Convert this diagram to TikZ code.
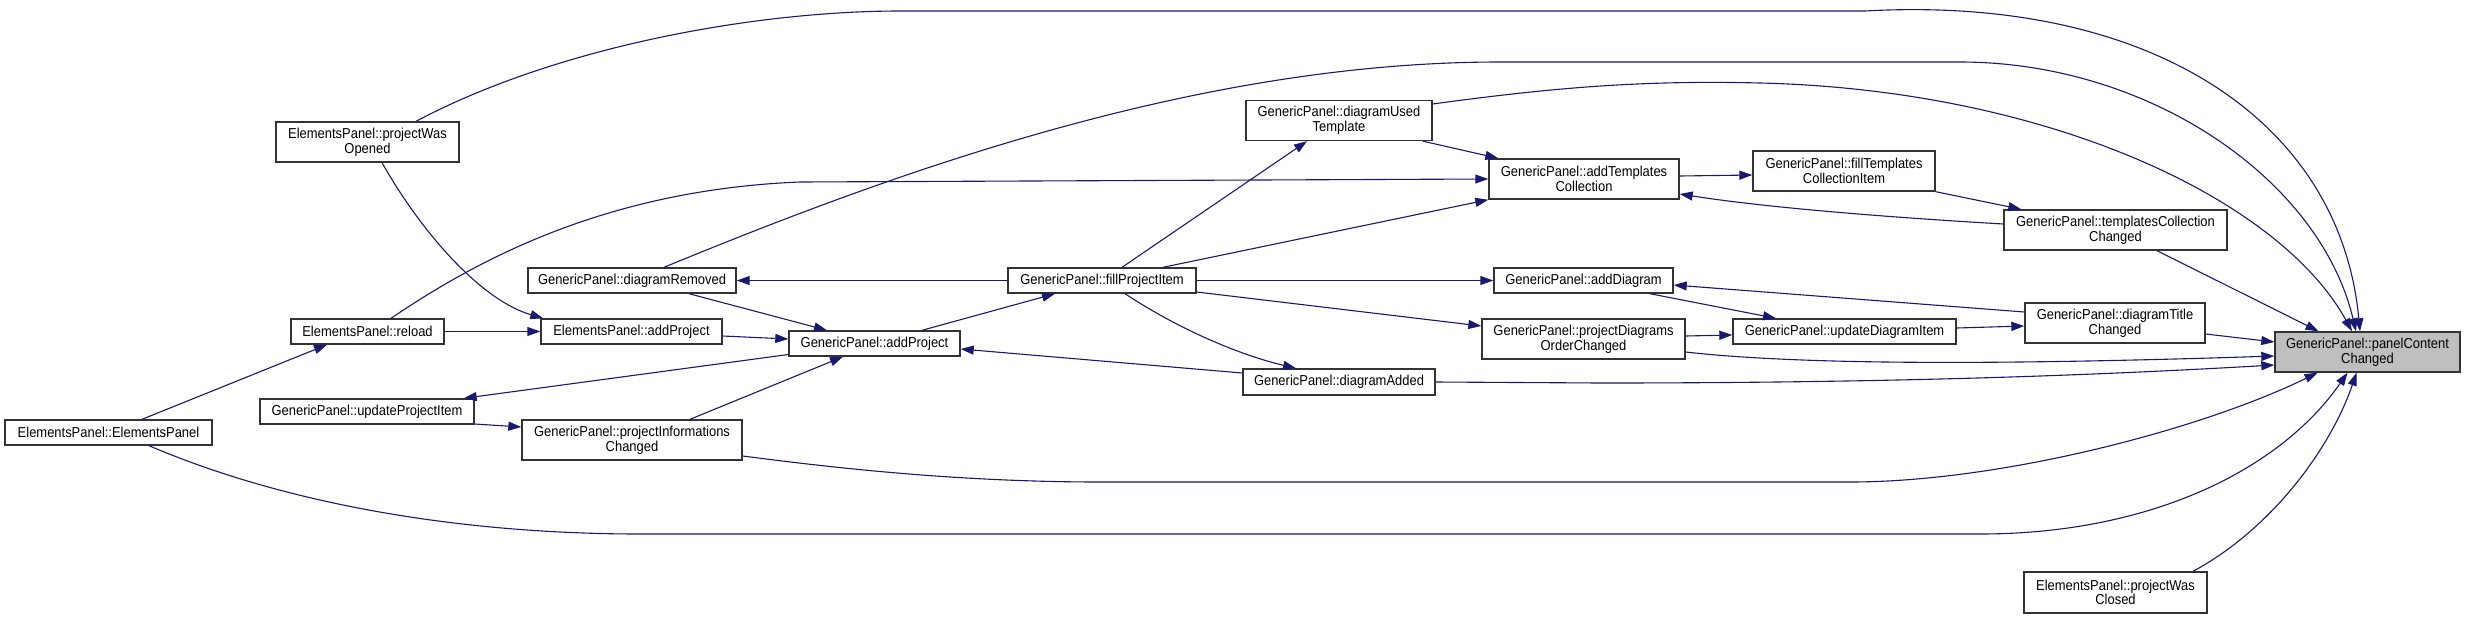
\documentclass[tikz,border=0pt]{standalone}
\usepackage{fontspec}
\setmainfont{Liberation Sans}[FakeStretch=0.9]
\usetikzlibrary{arrows.meta,calc}
\definecolor{edgecol}{HTML}{191970}
\definecolor{hlfill}{HTML}{BFBFBF}
\tikzset{
  box/.style={draw=black!80, line width=1.4pt, fill=white, rectangle, inner sep=0pt, align=center,
    font=\fontsize{14.4}{14.6}\selectfont},
  one/.style={minimum height=25pt},
  two/.style={minimum height=40pt},
  edge/.style={draw=edgecol, line width=1.1pt, -{Triangle[length=13pt,width=9pt]}}
}
\begin{document}
\begin{tikzpicture}[x=1pt,y=-1pt]
\useasboundingbox (0,0) rectangle (2465,619);
% nodes
\node[box,two,minimum width=183pt] (pwo) at (367.5,142) {ElementsPanel::projectWas\\Opened};
\node[box,one,minimum width=153pt] (reload) at (367.5,331.5) {ElementsPanel::reload};
\node[box,one,minimum width=207pt] (epep) at (108.5,432.5) {ElementsPanel::ElementsPanel};
\node[box,one,minimum width=208pt] (drem) at (632,280.5) {GenericPanel::diagramRemoved};
\node[box,one,minimum width=181pt] (epadd) at (631.5,331.5) {ElementsPanel::addProject};
\node[box,one,minimum width=214pt] (upi) at (367,411.5) {GenericPanel::updateProjectItem};
\node[box,two,minimum width=220pt] (pic) at (632,440) {GenericPanel::projectInformations\\Changed};
\node[box,one,minimum width=171pt] (gpadd) at (874.5,343.5) {GenericPanel::addProject};
\node[box,one,minimum width=188pt] (fpi) at (1102,280.5) {GenericPanel::fillProjectItem};
\node[box,two,minimum width=186pt] (dut) at (1339,120.5) {GenericPanel::diagramUsed\\Template};
\node[box,two,minimum width=190pt] (atc) at (1584,179) {GenericPanel::addTemplates\\Collection};
\node[box,one,minimum width=179pt] (adiag) at (1583.5,280.5) {GenericPanel::addDiagram};
\node[box,two,minimum width=203pt] (pdoc) at (1583.5,339) {GenericPanel::projectDiagrams\\OrderChanged};
\node[box,one,minimum width=192pt,minimum height=26pt] (dadd) at (1339,382) {GenericPanel::diagramAdded};
\node[box,two,minimum width=182pt] (ftci) at (1844,171) {GenericPanel::fillTemplates\\CollectionItem};
\node[box,two,minimum width=223pt] (tcc) at (2115.5,230) {GenericPanel::templatesCollection\\Changed};
\node[box,one,minimum width=223pt] (udi) at (1844.5,331.5) {GenericPanel::updateDiagramItem};
\node[box,two,minimum width=180pt] (dtc) at (2115,323) {GenericPanel::diagramTitle\\Changed};
\node[box,two,minimum width=185pt,fill=hlfill] (pcc) at (2367.5,352) {GenericPanel::panelContent\\Changed};
\node[box,two,minimum width=183pt,minimum height=41pt] (pwc) at (2115.5,592.5) {ElementsPanel::projectWas\\Closed};
% edges into panelContentChanged
\draw[edge] ($(pwo.north)+(48.5,0)$) .. controls (560,45) and (760,11) .. (900,11) -- (1865,11)
  .. controls (2150,-5) and (2340,120) .. ($(pcc.north)+(-7.5,0)$);
\draw[edge] ($(drem.north)+(32,0)$) .. controls (900,170) and (1200,62) .. (1500,62) -- (1960,62)
  .. controls (2150,62) and (2320,180) .. ($(pcc.north)+(-11.5,0)$);
\draw[edge] ($(dut.east)+(0,-16.5)$) .. controls (1550,88) and (1640,80) .. (1760,83)
  .. controls (2050,90) and (2280,200) .. ($(pcc.north)+(-15.5,0)$);
\draw[edge] ($(tcc.south)+(41.5,0)$) -- ($(pcc.north)+(-49,0)$);
\draw[edge] ($(dtc.east)+(0,11)$) -- ($(pcc.west)+(0,-10)$);
\draw[edge] ($(pdoc.east)+(0,13)$) .. controls (1800,365) and (2000,365) .. ($(pcc.west)+(0,4)$);
\draw[edge] (dadd.east) -- (1600,383) .. controls (1900,383) and (2100,375) .. ($(pcc.west)+(0,13)$);
\draw[edge] ($(pic.east)+(0,16)$) .. controls (820,466) and (950,482) .. (1100,482) -- (1850,482)
  .. controls (2000,482) and (2200,430) .. ($(pcc.south)+(-50,0)$);
\draw[edge] ($(epep.south)+(40.5,0)$) .. controls (300,510) and (480,534) .. (640,534) -- (1980,534)
  .. controls (2150,534) and (2280,470) .. ($(pcc.south)+(-20,0)$);
\draw[edge] ($(pwc.north)+(77.5,0)$) .. controls (2270,530) and (2330,450) .. ($(pcc.south)+(-11,0)$);
% other edges
\draw[edge] ($(atc.east)+(0,-3)$) -- ($(ftci.west)+(0,4)$);
\draw[edge] (ftci.south east) -- ($(tcc.north west)+(18,0)$);
\draw[edge] ($(tcc.west)+(0,-6)$) .. controls (1850,215) and (1750,205) .. ($(atc.east)+(0,15)$);
\draw[edge] ($(dtc.west)+(0,-11)$) -- ($(adiag.east)+(0,4.5)$);
\draw[edge] ($(adiag.south)+(66.5,0)$) -- ($(udi.north)+(-68.5,0)$);
\draw[edge] ($(udi.east)+(0,-3.5)$) -- ($(dtc.west)+(0,3)$);
\draw[edge] ($(pdoc.east)+(0,-3)$) -- ($(udi.west)+(0,3.5)$);
\draw[edge] ($(dut.south)+(84,0)$) -- ($(atc.north west)+(10,0)$);
\draw[edge] ($(fpi.north)+(20,0)$) -- ($(dut.south)+(-32,0)$);
\draw[edge] ($(fpi.north)+(61,0)$) -- (atc.south west);
\draw[edge] ($(reload.north)+(23.5,0)$) .. controls (470,265) and (600,190) .. (800,182) -- (atc.west);
\draw[edge] (fpi.west) -- (drem.east);
\draw[edge] (fpi.east) -- (adiag.west);
\draw[edge] ($(fpi.east)+(0,11.5)$) -- ($(pdoc.west)+(0,-13)$);
\draw[edge] ($(fpi.south)+(23,0)$) .. controls (1180,330) and (1240,355) .. ($(dadd.north)+(-43,0)$);
\draw[edge] ($(dadd.west)+(0,-9)$) -- ($(gpadd.east)+(0,5.5)$);
\draw[edge] ($(gpadd.north)+(47.5,0)$) -- ($(fpi.south)+(-47,0)$);
\draw[edge] ($(drem.south)+(57,0)$) -- ($(gpadd.north)+(-47.5,0)$);
\draw[edge] ($(epadd.east)+(0,4.5)$) -- ($(gpadd.west)+(0,-4.5)$);
\draw[edge] ($(pic.north)+(58,0)$) -- ($(gpadd.south)+(-31.5,0)$);
\draw[edge] ($(gpadd.west)+(0,11)$) -- ($(upi.north east)+(-11,0)$);
\draw[edge] ($(upi.east)+(0,12.5)$) -- ($(pic.west)+(0,-13)$);
\draw[edge] (reload.east) -- (epadd.west);
\draw[edge] ($(pwo.south)+(14.5,0)$) .. controls (420,230) and (480,300) .. ($(epadd.north west)+(3,0)$);
\draw[edge] ($(epep.north)+(33.5,0)$) -- ($(reload.south)+(-40.5,0)$);
\end{tikzpicture}
\end{document}
